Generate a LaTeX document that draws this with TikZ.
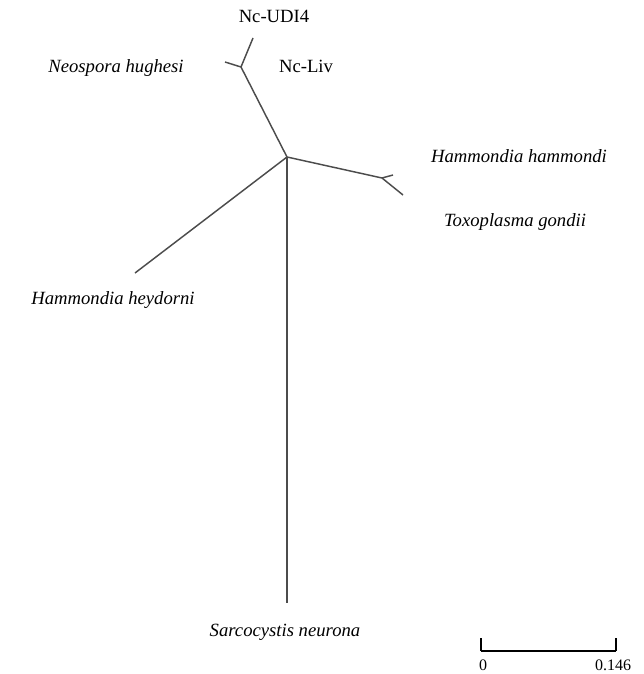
\documentclass[tikz,border=0pt]{standalone}
\usepackage{fontspec}
\setmainfont{Liberation Serif}
\usepackage{tikz}
\usepackage{xcolor}

\tikzset{
  branch/.style={draw=black!70,line width=1.1pt},
  taxon/.style={font=\fontsize{14}{16}\selectfont\itshape,inner sep=0pt},
  isolate/.style={font=\fontsize{14}{16}\selectfont,inner sep=0pt},
  scalelbl/.style={font=\fontsize{12}{14}\selectfont,inner sep=0pt}
}

\begin{document}
\begin{tikzpicture}[x=0.75pt,y=-0.75pt]
      \useasboundingbox (0,0) rectangle (643,674);
      \coordinate (root) at (287,157);
      \coordinate (nfork) at (241,67);
      \coordinate (udi) at (253,38);
      \coordinate (nhug) at (225,62);
      \coordinate (tfork) at (382,178);
      \coordinate (hham) at (393,175);
      \coordinate (tgon) at (403,195);
      \coordinate (hhey) at (135,273);
      \coordinate (sneu) at (287,603);
      \draw [branch] (root) -- (nfork);
      \draw [branch] (nfork) -- (udi);
      \draw [branch] (nfork) -- (nhug);
      \draw [branch] (root) -- (tfork);
      \draw [branch] (tfork) -- (hham);
      \draw [branch] (tfork) -- (tgon);
      \draw [branch] (root) -- (hhey);
      \draw [branch] (root) -- (sneu);
      \node [isolate] (lbludi) at (274,16) {Nc-UDI4};
      \node [isolate] (lblliv) at (306,66) {Nc-Liv};
      \node [taxon] (lblnhug) at (116,68) {Neospora hughesi};
      \node [taxon] (lblhham) at (519,156) {Hammondia hammondi};
      \node [taxon] (lbltgon) at (515,222) {Toxoplasma gondii};
      \node [taxon] (lblhhey) at (113,300) {Hammondia heydorni};
      \node [taxon] (lblsneu) at (285,632) {Sarcocystis neurona};
      \coordinate (s0) at (481,651);
      \coordinate (s1) at (616,651);
      \draw [black,line width=0.9pt] (s0) -- (s1);
      \draw [black,line width=0.9pt] (s0) -- ++(0,-13);
      \draw [black,line width=0.9pt] (s1) -- ++(0,-13);
      \node [scalelbl] (lbl0) at (483,665) {0};
      \node [scalelbl] (lblmax) at (613,665) {0.146};
\end{tikzpicture}
\end{document}
